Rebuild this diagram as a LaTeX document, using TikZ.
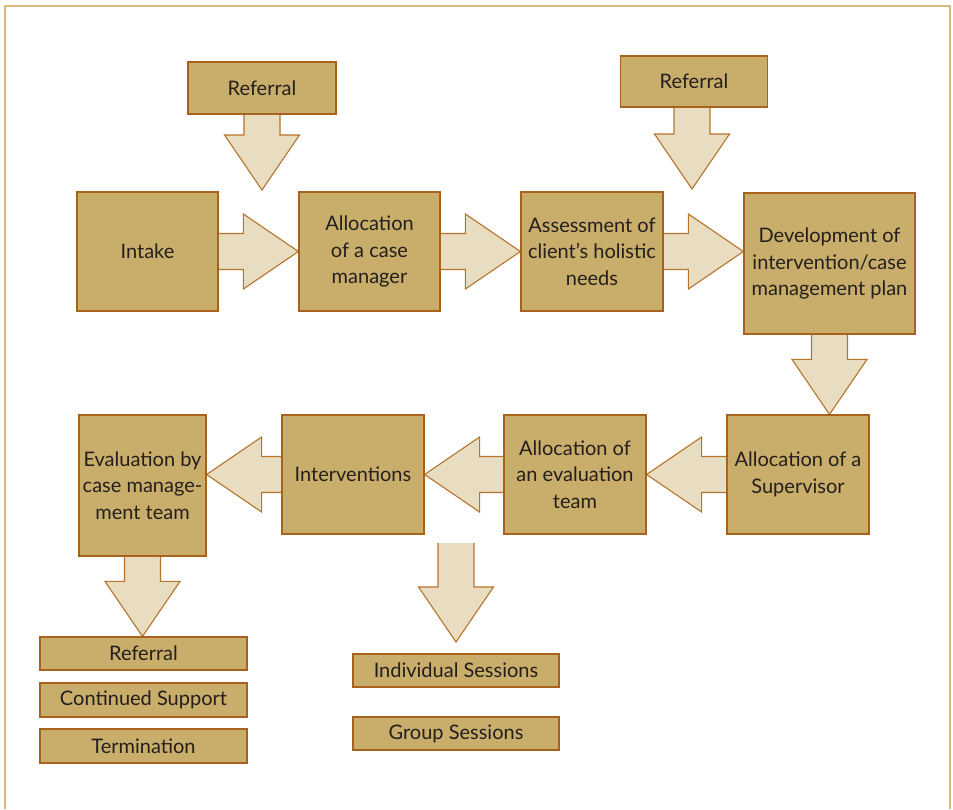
\documentclass[tikz,border=0pt]{standalone}
\usepackage{fontspec}
\setmainfont{Lato}
\usetikzlibrary{calc}
\definecolor{boxfill}{HTML}{C9AD6B}
\definecolor{boxline}{HTML}{A8621C}
\definecolor{arrfill}{HTML}{E8DDC0}
\definecolor{arrline}{HTML}{B5742C}
\definecolor{framecol}{HTML}{D8BB7C}
\definecolor{txt}{HTML}{231F1C}
\pgfdeclarelayer{bg}\pgfsetlayers{bg,main}
\newcommand\ArrRight[2]{\filldraw[arr] let \p1=(#1), \p2=(#2) in
  (\x1,\y2+18pt) -- (\x2-55pt,\y2+18pt) -- (\x2-55pt,\y2+37.5pt) -- (\x2,\y2)
  -- (\x2-55pt,\y2-37.5pt) -- (\x2-55pt,\y2-18pt) -- (\x1,\y2-18pt);}
\newcommand\ArrLeft[2]{\filldraw[arr] let \p1=(#1), \p2=(#2) in
  (\x1,\y2+18pt) -- (\x2+55pt,\y2+18pt) -- (\x2+55pt,\y2+37.5pt) -- (\x2,\y2)
  -- (\x2+55pt,\y2-37.5pt) -- (\x2+55pt,\y2-18pt) -- (\x1,\y2-18pt);}
\newcommand\ArrDown[2]{\filldraw[arr] let \p1=(#1), \p2=(#2) in
  (\x2-18pt,\y1) -- (\x2-18pt,\y2+55pt) -- (\x2-37.5pt,\y2+55pt) -- (\x2,\y2)
  -- (\x2+37.5pt,\y2+55pt) -- (\x2+18pt,\y2+55pt) -- (\x2+18pt,\y1);}
\tikzset{
  box/.style={draw=boxline, fill=boxfill, line width=1.2pt, inner sep=0pt,
    align=center, text=txt, font=\fontsize{20}{26.5}\selectfont},
  arr/.style={draw=arrline, fill=arrfill, line width=1.1pt, line join=miter},
}
\begin{document}
\begin{tikzpicture}[x=1pt,y=-1pt]
\useasboundingbox (0,0) rectangle (953,809);
\draw[framecol, line width=1.4pt] (5,809) -- (5,6) -- (950,6) -- (950,809);

\node[box, minimum width=148, minimum height=52] (ref1) at (262,88) {Referral};
\node[box, minimum width=141, minimum height=119] (intake) at (147.5,251.5) {Intake};
\node[box, minimum width=141, minimum height=119] (acm) at (369.5,251.5) {Allocation\\of a case\\manager};
\node[box, minimum width=142, minimum height=119] (assess) at (592,251.5) {Assessment of\\client’s holistic\\needs};
\node[box, minimum width=147, minimum height=51] (ref2) at (694,81.5) {Referral};
\node[box, minimum width=171, minimum height=141] (dev) at (829.5,263.5) {Development of\\intervention/case\\management plan};
\node[box, minimum width=142, minimum height=119] (sup) at (798,474.5) {Allocation of a\\Supervisor};
\node[box, minimum width=142, minimum height=119] (ae) at (575,474.5) {Allocation of\\an evaluation\\team};
\node[box, minimum width=142, minimum height=119] (int) at (353,474.5) {Interventions};
\node[box, minimum width=127, minimum height=141] (eval) at (142.5,485.5) {Evaluation by\\case manage-\\ment team};
\node[box, minimum width=207, minimum height=33] (ref3) at (143.5,653.5) {Referral};
\node[box, minimum width=207, minimum height=34] (cont) at (143.5,700) {Continued Support};
\node[box, minimum width=207, minimum height=34] (term) at (143.5,746) {Termination};
\node[box, minimum width=206, minimum height=33] (indiv) at (456,670.5) {Individual Sessions};
\node[box, minimum width=206, minimum height=33] (group) at (456,733.5) {Group Sessions};

\coordinate (t1) at (262,190);
\coordinate (t2) at (692,189);
\coordinate (s5) at (456,543);
\coordinate (t5) at (456,642);

\begin{pgfonlayer}{bg}
\ArrDown{ref1.south}{t1}
\ArrRight{intake.east}{acm.west}
\ArrRight{acm.east}{assess.west}
\ArrDown{ref2.south}{t2}
\ArrRight{assess.east}{dev.west |- assess.east}
\ArrDown{dev.south}{dev.south |- sup.north}
\ArrLeft{sup.west}{ae.east}
\ArrLeft{ae.west}{int.east}
\ArrLeft{int.west}{eval.east |- int.west}
\ArrDown{eval.south}{eval.south |- ref3.north}
\ArrDown{s5}{t5}
\end{pgfonlayer}
\end{tikzpicture}
\end{document}
